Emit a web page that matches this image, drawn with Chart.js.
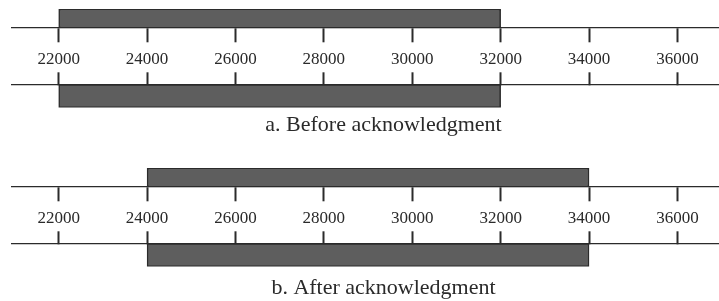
<!DOCTYPE html>
<html>
<head>
<meta charset="utf-8">
<script src="https://cdn.jsdelivr.net/npm/chart.js@4.4.1/dist/chart.umd.min.js"></script>
<style>
  html, body { margin: 0; padding: 0; background: #fff; }
  .panel { position: relative; width: 719px; }
  #panelA { height: 159px; }
  #panelB { height: 142px; }
</style>
</head>
<body>
<div class="panel" id="panelA"><canvas id="chartA"></canvas></div>
<div class="panel" id="panelB"><canvas id="chartB"></canvas></div>
<script>
// sequence numbers on the ruler
const tickValues = [22000, 24000, 26000, 28000, 30000, 32000, 34000, 36000]

// window [start, end] before and after the acknowledgment
const windowBefore = [22000, 32000]
const windowAfter = [24000, 34000]

const captionBefore = 'a. Before acknowledgment'
const captionAfter = 'b. After acknowledgment'

const ink = '#2b2b2b'
const barFill = '#5e5e5e'
const serif = 'Liberation Serif'

// Function to build one ruler axis (the line with tick marks)
const rulerAxis = (lineY, tickLength, showLabels) => ({
  type: 'linear',
  axis: 'x',
  min: 20943,
  max: 36941,
  position: { y: lineY },
  afterBuildTicks: (axis) => {
    axis.ticks = tickValues.map(value => ({ value }))
  },
  grid: {
    drawOnChartArea: false,
    drawTicks: true,
    tickLength: tickLength,
    tickColor: ink,
    tickWidth: 2,
  },
  border: { display: true, color: ink, width: 1.3 },
  ticks: {
    display: showLabels,
    autoSkip: false,
    maxRotation: 0,
    padding: 7,
    color: '#2a2a2a',
    font: { family: serif, size: 17 },
    callback: (value) => String(value),
  },
})

// the caption sits a little right of the middle in the original figure
const captionShift = {
  id: 'captionShift',
  afterLayout(chart) {
    chart.titleBlock.left += 36
  },
}

// Function to draw one panel
const makePanel = (canvasId, win, caption, titlePadding) => {
  const barStyle = {
    backgroundColor: barFill,
    borderColor: ink,
    borderWidth: 1.5,
    borderSkipped: false,
  }
  return new Chart(document.getElementById(canvasId), {
    type: 'bar',
    data: {
      datasets: [
        { ...barStyle, data: [{ x: win, y: 9.5 }], barThickness: 19 },
        { ...barStyle, data: [{ x: win, y: 87.5 }], barThickness: 23 },
      ],
    },
    options: {
      indexAxis: 'y',
      responsive: true,
      maintainAspectRatio: false,
      animation: false,
      layout: { padding: { left: 12, right: 0, top: 9, bottom: 0 } },
      datasets: { bar: { grouped: false } },
      scales: {
        y: { type: 'linear', min: 0, max: 99, reverse: true, offset: false, display: false },
        x: rulerAxis(19, 14, true),
        x2: rulerAxis(76, -13, false),
      },
      plugins: {
        legend: { display: false },
        tooltip: { enabled: false },
        title: {
          display: true,
          position: 'bottom',
          text: caption,
          color: '#2a2a2a',
          font: { family: serif, size: 22, weight: 'normal' },
          padding: titlePadding,
        },
      },
    },
    plugins: [captionShift],
  })
}

makePanel('chartA', windowBefore, captionBefore, { top: 4, bottom: 21 })
makePanel('chartB', windowAfter, captionAfter, { top: 8, bottom: 0 })
</script>
</body>
</html>
